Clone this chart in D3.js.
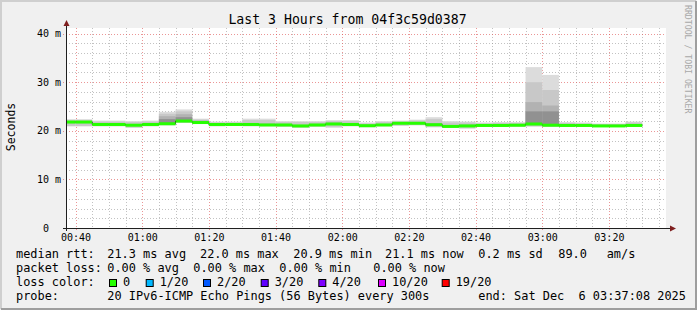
<!DOCTYPE html>
<html>
<head>
<meta charset="utf-8">
<script src="https://cdn.jsdelivr.net/npm/d3@7"></script>
<style>
  body { margin: 0; padding: 0; background: #f0f0f0; }
  svg text { font-family: "DejaVu Sans Mono", monospace; white-space: pre; }
</style>
</head>
<body>
<svg id="chart" width="697" height="310"></svg>
<script>
// 5 minute steps (start of each step)
var stepStart = ["00:35","00:40","00:45","00:50","00:55","01:00","01:05","01:10","01:15","01:20",
  "01:25","01:30","01:35","01:40","01:45","01:50","01:55","02:00","02:05","02:10",
  "02:15","02:20","02:25","02:30","02:35","02:40","02:45","02:50","02:55","03:00",
  "03:05","03:10","03:15","03:20","03:25"];
// rtt in ms, sorted ping percentiles per step
var rttMin = [20.9,20.9,20.9,20.9,20.6,20.9,21.1,21.6,21.4,20.9,21.0,20.9,20.9,20.8,20.6,20.8,20.6,20.9,20.7,20.9,
  21.0,21.1,20.7,20.6,20.4,20.8,20.8,20.8,20.8,20.8,20.8,20.8,20.9,20.9,20.8];
var rttP10 = [21.0,21.0,21.0,21.0,20.7,21.0,21.2,21.7,21.5,21.0,21.1,21.0,21.0,20.9,20.7,20.9,20.8,21.0,20.8,21.0,
  21.1,21.2,20.8,20.7,20.6,20.9,20.9,20.9,21.0,20.9,20.9,20.9,20.95,20.95,20.9];
var rttP25 = [21.7,21.7,21.2,21.2,21.05,21.2,21.25,21.8,21.6,21.2,21.2,21.2,21.1,21.1,20.9,21.1,21.3,21.2,20.95,21.1,
  21.45,21.45,21.15,20.8,20.9,21.0,21.0,21.05,21.1,20.95,21.0,21.0,20.95,20.95,21.0];
var rttP40 = [21.75,21.75,21.25,21.25,21.1,21.25,21.35,21.9,21.65,21.25,21.25,21.25,21.15,21.15,20.95,21.15,21.35,21.25,21.0,21.15,
  21.5,21.5,21.2,20.85,20.95,21.05,21.05,21.1,21.2,21.0,21.05,21.05,20.98,20.98,21.05];
var rttMedian = [21.8,21.8,21.3,21.3,21.15,21.3,21.45,22.0,21.7,21.3,21.3,21.3,21.2,21.2,21.0,21.2,21.4,21.3,21.05,21.2,
  21.55,21.55,21.25,20.9,21.0,21.1,21.1,21.15,21.4,21.15,21.1,21.1,21.0,21.0,21.1];
var rttP60 = [21.9,21.9,21.4,21.4,21.25,21.4,22.4,22.8,21.9,21.4,21.4,21.4,21.3,21.3,21.1,21.3,21.5,21.4,21.15,21.3,
  21.65,21.65,21.35,21.0,21.1,21.2,21.2,21.25,24.0,24.0,21.2,21.2,21.1,21.1,21.2];
var rttP75 = [22.0,22.0,21.5,21.5,21.35,21.5,23.0,23.4,22.1,21.5,21.5,21.6,21.5,21.4,21.2,21.4,21.7,21.6,21.25,21.4,
  21.75,21.8,21.6,21.2,21.3,21.3,21.3,21.35,25.9,25.2,21.3,21.3,21.2,21.2,21.35];
var rttP90 = [22.2,22.2,21.9,21.9,21.8,21.9,23.5,24.0,22.3,21.7,21.7,22.2,22.2,21.8,21.8,21.8,22.0,22.0,21.5,21.8,
  21.9,22.1,22.4,21.7,21.7,21.5,21.6,21.6,30.0,28.4,21.6,21.5,21.4,21.4,21.7];
var rttMax = [22.4,22.4,22.1,22.1,22.0,22.1,23.9,24.4,22.5,21.9,21.9,22.5,22.5,22.0,22.0,22.0,22.2,22.2,21.7,22.0,
  22.1,22.3,22.8,22.0,21.9,21.7,21.8,21.8,33.1,31.5,21.8,21.7,21.5,21.5,21.9];
var lossCount = [0,0,0,0,0,0,0,0,0,0,0,0,0,0,0,0,0,0,0,0,0,0,0,0,0,0,0,0,0,0,0,0,0,0,0];

var lossLevels = [0, 1, 2, 3, 4, 10, 19];
var lossLabels = ["0", "1/20", "2/20", "3/20", "4/20", "10/20", "19/20"];
var lossColors = ["#26ff00", "#00b8ff", "#0059ff", "#5e00ff", "#7e00ff", "#dd00ff", "#ff0000"];

var yMajor = [0, 10, 20, 30, 40];
var yMajorLabels = ["0  ", "10 m", "20 m", "30 m", "40 m"];

var W = 697, H = 310;
var plotLeft = 66, plotRight = 666, plotTop = 28, plotBottom = 228;
var parseT = d3.timeParse("%Y-%m-%d %H:%M:%S");
var tStart = parseT("2025-12-06 00:37:08"), tEnd = parseT("2025-12-06 03:37:08");
var times = stepStart.map(s => parseT("2025-12-06 " + s + ":00"));
var stepMs = 300000;

var svg = d3.select("#chart");

// frame
svg.append("rect").attr("width", W).attr("height", H).attr("fill", "#f0f0f0");
svg.append("path").attr("d", `M1,${H-1} V1 H${W-1}`).attr("stroke", "#cfcfcf").attr("stroke-width", 2).attr("fill", "none");
svg.append("path").attr("d", `M1,${H-1} H${W-1} V1`).attr("stroke", "#9e9e9e").attr("stroke-width", 2).attr("fill", "none");

var x = d3.scaleTime().domain([tStart, tEnd]).range([plotLeft, plotRight]);
var y = d3.scaleLinear().domain([0, 41.15]).range([plotBottom, plotTop]);

// canvas
svg.append("rect").attr("x", plotLeft).attr("y", plotTop)
  .attr("width", plotRight - plotLeft).attr("height", plotBottom - plotTop).attr("fill", "#ffffff");

svg.append("clipPath").attr("id", "plotClip")
  .append("rect").attr("x", plotLeft).attr("y", plotTop)
  .attr("width", plotRight - plotLeft).attr("height", plotBottom - plotTop);

// grid
var grid = svg.append("g");
var minorX = d3.timeMinute.every(5).range(tStart, tEnd).filter(d => d.getMinutes() % 20 !== 0);
var majorX = d3.timeMinute.every(20).range(tStart, tEnd);
grid.selectAll("line.vminor").data(minorX).join("line")
  .attr("x1", d => Math.round(x(d)) + 0.5).attr("x2", d => Math.round(x(d)) + 0.5)
  .attr("y1", plotTop).attr("y2", plotBottom)
  .attr("stroke", "rgba(143,143,143,0.55)").attr("stroke-dasharray", "1,2");
var minorY = d3.range(2, 41, 2).filter(v => v % 10 !== 0);
grid.selectAll("line.hminor").data(minorY).join("line")
  .attr("x1", plotLeft).attr("x2", plotRight)
  .attr("y1", d => Math.round(y(d)) + 0.5).attr("y2", d => Math.round(y(d)) + 0.5)
  .attr("stroke", "rgba(143,143,143,0.55)").attr("stroke-dasharray", "1,2");
grid.selectAll("line.vmajor").data(majorX).join("line")
  .attr("x1", d => Math.round(x(d)) + 0.5).attr("x2", d => Math.round(x(d)) + 0.5)
  .attr("y1", plotTop).attr("y2", plotBottom + 3)
  .attr("stroke", "rgba(222,80,80,0.6)").attr("stroke-dasharray", "1,2");
grid.selectAll("line.hmajor").data(yMajor).join("line")
  .attr("x1", plotLeft - 3).attr("x2", plotRight)
  .attr("y1", d => Math.round(y(d)) + 0.5).attr("y2", d => Math.round(y(d)) + 0.5)
  .attr("stroke", "rgba(222,80,80,0.6)").attr("stroke-dasharray", "1,2");

// smoke
var plot = svg.append("g").attr("clip-path", "url(#plotClip)");
var bands = [
  [rttMin, rttMax, "#dcdcdc"],
  [rttP10, rttP90, "#c8c8c8"],
  [rttP25, rttP75, "#b2b2b2"],
  [rttP40, rttP60, "#919191"]
];
bands.forEach(function(b){
  plot.append("g").selectAll("rect").data(times).join("rect")
    .attr("x", d => x(d))
    .attr("width", d => x(new Date(+d + stepMs)) - x(d))
    .attr("y", (d, i) => y(b[1][i]))
    .attr("height", (d, i) => y(b[0][i]) - y(b[1][i]))
    .attr("fill", b[2]);
});

// median
var medPts = times.map((t, i) => [t, rttMedian[i]]);
medPts.push([new Date(+times[times.length - 1] + stepMs), rttMedian[rttMedian.length - 1]]);
plot.append("path")
  .attr("d", d3.line().x(d => x(d[0])).y(d => y(d[1])).curve(d3.curveStepAfter)(medPts))
  .attr("fill", "none").attr("stroke", "#202020").attr("stroke-width", 1);

var lossColor = d3.scaleThreshold().domain(lossLevels.slice(1)).range(lossColors);
plot.append("g").selectAll("rect").data(times).join("rect")
  .attr("x", d => x(d))
  .attr("width", d => x(new Date(+d + stepMs)) - x(d))
  .attr("y", (d, i) => y(rttMedian[i]) - 1.5)
  .attr("height", 3)
  .attr("fill", (d, i) => lossColor(lossCount[i]));

// axes
svg.append("line").attr("x1", plotLeft + 0.5).attr("x2", plotLeft + 0.5).attr("y1", plotBottom + 3).attr("y2", 24)
  .attr("stroke", "#1f1f1f");
svg.append("line").attr("x1", plotLeft - 3).attr("x2", 671).attr("y1", plotBottom + 0.5).attr("y2", plotBottom + 0.5)
  .attr("stroke", "#1f1f1f");
svg.append("path").attr("d", `M${plotLeft + 0.5},20 L${plotLeft - 2.5},26 L${plotLeft + 3.5},26 Z`).attr("fill", "#7f1f1f");
svg.append("path").attr("d", `M676,${plotBottom + 0.5} L670,${plotBottom - 2.5} L670,${plotBottom + 3.5} Z`).attr("fill", "#7f1f1f");

// tick labels
svg.append("g").selectAll("text").data(yMajor).join("text")
  .attr("x", 61).attr("y", d => y(d) + 3.5)
  .attr("text-anchor", "end").attr("font-size", "10px").attr("fill", "#000")
  .text((d, i) => yMajorLabels[i]);
svg.append("g").selectAll("text").data(majorX).join("text")
  .attr("x", d => x(d) + 0.5).attr("y", 241)
  .attr("text-anchor", "middle").attr("font-size", "10px").attr("fill", "#000")
  .text(d => d3.timeFormat("%H:%M")(d));

// titles
svg.append("text").attr("x", 347.5).attr("y", 24).attr("text-anchor", "middle")
  .attr("font-size", "13.2px").attr("fill", "#000").text("Last 3 Hours from 04f3c59d0387");
svg.append("text").attr("transform", "translate(14.5,127) rotate(-90)").attr("text-anchor", "middle")
  .attr("font-size", "11.5px").attr("fill", "#000").text("Seconds");
svg.append("text").attr("transform", "translate(685,5) rotate(90)").attr("text-anchor", "start")
  .attr("font-size", "8.2px").attr("fill", "#a8a8a8").text("RRDTOOL / TOBI OETIKER");

// legend
var legendRows = [
  [[16, "median rtt:"], [107.3, "21.3 ms avg"], [200, "22.0 ms max"], [293.3, "20.9 ms min"], [385, "21.1 ms now"], [478.3, "0.2 ms sd"], [558.3, "89.0"], [606.7, "am/s"]],
  [[16, "packet loss:"], [107.3, "0.00 % avg"], [193.3, "0.00 % max"], [279.3, "0.00 % min"], [373.3, "0.00 % now"]],
  [[16, "loss color:"]],
  [[16, "probe:"], [107.3, "20 IPv6-ICMP Echo Pings (56 Bytes) every 300s"], [478.3, "end: Sat Dec  6 03:37:08 2025"]]
];
var rowBase = [258, 272, 286, 300];
legendRows.forEach(function(row, r){
  svg.append("g").selectAll("text").data(row).join("text")
    .attr("x", d => d[0]).attr("y", rowBase[r])
    .attr("font-size", "11.9px").attr("fill", "#000")
    .text(d => d[1]);
});
var boxX = [109, 145.7, 203, 260.7, 318.3, 378, 441.7];
var lg = svg.append("g").selectAll("g").data(lossLabels).join("g");
lg.append("rect")
  .attr("x", (d, i) => boxX[i] + 0.5).attr("y", 279.5).attr("width", 7).attr("height", 7)
  .attr("fill", (d, i) => lossColors[i]).attr("stroke", "#000").attr("stroke-width", 1);
lg.append("text")
  .attr("x", (d, i) => boxX[i] + 14).attr("y", rowBase[2])
  .attr("font-size", "11.9px").attr("fill", "#000")
  .text(d => d);
</script>
</body>
</html>
